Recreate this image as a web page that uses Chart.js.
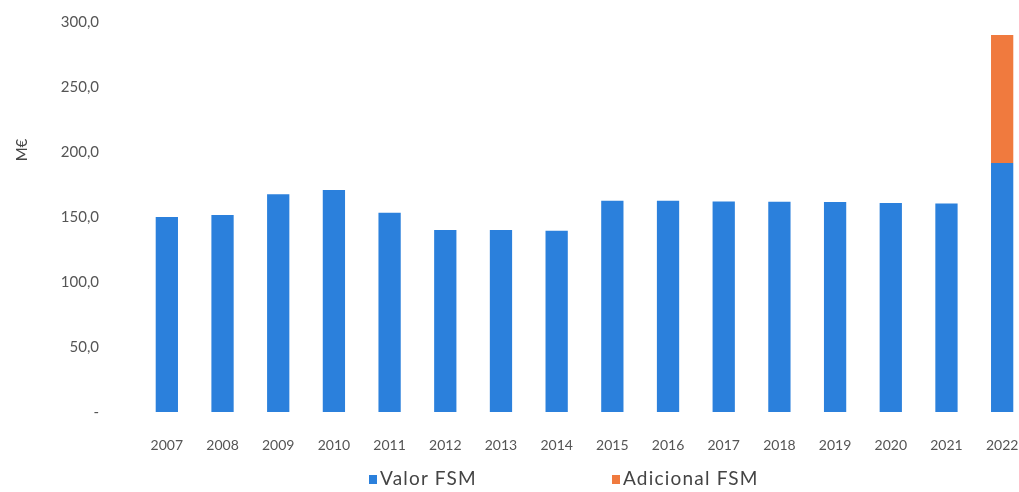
<!DOCTYPE html>
<html>
<head>
<meta charset="utf-8">
<script src="https://cdn.jsdelivr.net/npm/chart.js@4/dist/chart.umd.min.js"></script>
<style>
  html, body { margin: 0; padding: 0; background: #fff; overflow: hidden; }
  #wrap { position: relative; width: 1040px; height: 492px; }
  .legend { position: absolute; top: 466px; font-family: Lato, sans-serif; font-size: 19px;
    letter-spacing: 1.2px; color: #444; white-space: nowrap; }
  .legend i { display: inline-block; width: 8px; height: 9px; margin-right: 3px; vertical-align: 1px; }
</style>
</head>
<body>
<div id="wrap">
  <canvas id="chart" width="1040" height="492"></canvas>
  <div class="legend" style="left:369px"><i style="background:#2b80dc"></i>Valor FSM</div>
  <div class="legend" style="left:612px"><i style="background:#f07a3e"></i>Adicional FSM</div>
</div>
<script>
const years = ["2007", "2008", "2009", "2010", "2011", "2012", "2013", "2014",
  "2015", "2016", "2017", "2018", "2019", "2020", "2021", "2022"];
const valorFSM = [150.0, 151.5, 167.5, 170.8, 153.3, 140.0, 140.0, 139.5,
  162.5, 162.5, 162.0, 161.8, 161.5, 160.8, 160.4, 191.5];
const adicionalFSM = [0, 0, 0, 0, 0, 0, 0, 0, 0, 0, 0, 0, 0, 0, 0, 98.5];
const yTicks = [0, 50, 100, 150, 200, 250, 300];

// y axis title "M€", drawn off-centre like in the source
const axisTitle = {
  id: "axisTitle",
  afterDraw(chart) {
    const ctx = chart.ctx;
    ctx.save();
    ctx.translate(22, 150);
    ctx.rotate(-Math.PI / 2);
    ctx.font = "15px Lato";
    ctx.fillStyle = "#444";
    ctx.textAlign = "center";
    ctx.textBaseline = "middle";
    ctx.fillText("M€", 0, 0);
    ctx.restore();
  },
};

new Chart(document.getElementById("chart"), {
  type: "bar",
  data: {
    labels: years,
    datasets: [
      { label: "Valor FSM", data: valorFSM, backgroundColor: "#2b80dc",
        barPercentage: 0.4, categoryPercentage: 1 },
      { label: "Adicional FSM", data: adicionalFSM, backgroundColor: "#f07a3e",
        barPercentage: 0.4, categoryPercentage: 1 },
    ],
  },
  options: {
    responsive: false,
    animation: false,
    layout: { padding: { top: 22, right: 10, bottom: 0, left: 0 } },
    plugins: { legend: { display: false }, tooltip: { enabled: false } },
    scales: {
      x: {
        stacked: true,
        grid: { display: false },
        border: { display: false },
        ticks: { color: "#555", font: { family: "Lato", size: 14 }, padding: 17, maxRotation: 0 },
        afterFit: (axis) => { axis.height = 80; },
      },
      y: {
        stacked: true,
        min: 0,
        max: 300,
        grid: { display: false },
        border: { display: false },
        afterBuildTicks: (axis) => { axis.ticks = yTicks.map((v) => ({ value: v })); },
        ticks: {
          color: "#555",
          font: { family: "Lato", size: 15 },
          padding: 32,
          callback: (v) => (v === 0 ? "-" : v.toFixed(1).replace(".", ",")),
        },
        afterFit: (axis) => {
          axis.width = 139;
          axis.paddingTop = 0;
          axis.paddingBottom = 0;
        },
      },
    },
  },
  plugins: [axisTitle],
});
</script>
</body>
</html>
